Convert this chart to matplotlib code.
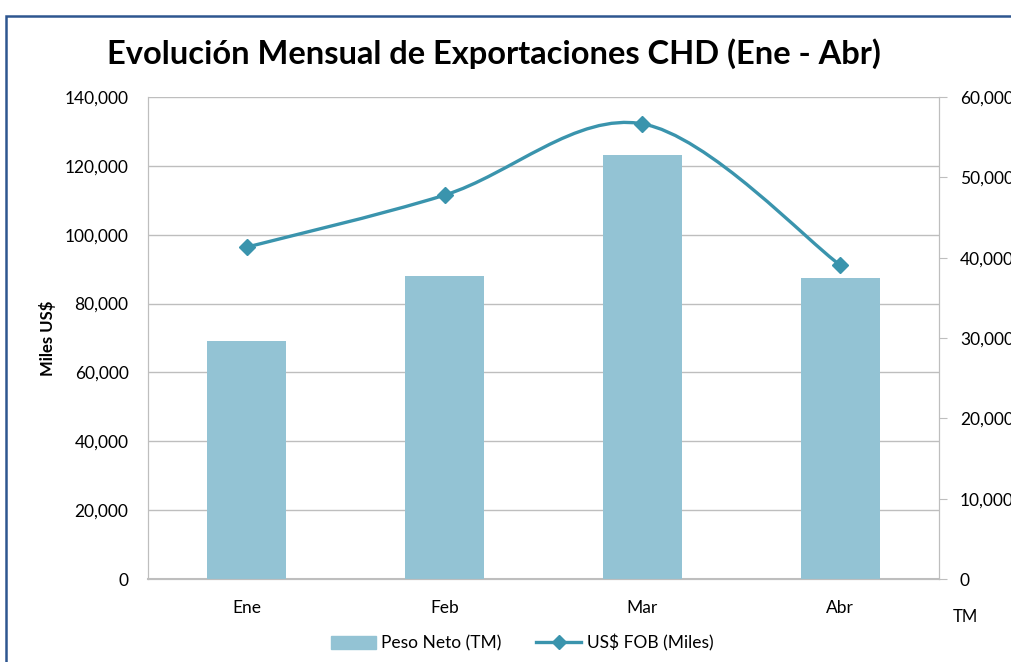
import numpy as np
import matplotlib.pyplot as plt
from matplotlib.path import Path
from matplotlib.patches import PathPatch, Rectangle
from matplotlib.lines import Line2D
from matplotlib.ticker import FuncFormatter

plt.rcParams['font.family'] = ['Lato', 'DejaVu Sans']

# Datos
meses = ['Ene', 'Feb', 'Mar', 'Abr']
peso_neto_tm = [29600, 37700, 52800, 37500]
fob_miles = [96400, 111500, 132200, 91200]

bar_color = '#93C3D4'
line_color = '#3A94AD'
grid_color = '#BEBEBE'

fig = plt.figure(figsize=(10.11, 6.62), dpi=100)
ax = fig.add_axes([148 / 1011, 1 - 579 / 662, (939 - 148) / 1011, (579 - 97) / 662])
ax2 = ax.twinx()

x = np.arange(len(meses))

# barras (eje derecho, TM)
ax2.bar(x, peso_neto_tm, width=0.4, color=bar_color, zorder=2)
ax2.set_ylim(0, 60000)
ax2.set_yticks(np.arange(0, 60001, 10000))

# linea suavizada (eje izquierdo, Miles US$)
pts = np.column_stack([x, fob_miles]).astype(float)
ext = np.vstack([pts[0], pts, pts[-1]])
verts = [tuple(pts[0])]
codes = [Path.MOVETO]
for i in range(len(pts) - 1):
    p0, p1, p2, p3 = ext[i], ext[i + 1], ext[i + 2], ext[i + 3]
    c1 = p1 + (p2 - p0) / 6
    c2 = p2 - (p3 - p1) / 6
    verts += [tuple(c1), tuple(c2), tuple(p2)]
    codes += [Path.CURVE4] * 3
ax.add_patch(PathPatch(Path(verts, codes), fill=False, edgecolor=line_color,
                       lw=2.4, zorder=3, capstyle='round'))
ax.plot(x, fob_miles, ls='none', marker='D', ms=8, color=line_color, zorder=4)

ax.set_xlim(-0.5, 3.5)
ax.set_ylim(0, 140000)
ax.set_yticks(np.arange(0, 140001, 20000))
ax.set_xticks(x)
ax.set_xticklabels(meses)
ax.yaxis.grid(True, color=grid_color, lw=1)
ax.set_axisbelow(True)

fmt = FuncFormatter(lambda v, p: f'{v:,.0f}')
ax.yaxis.set_major_formatter(fmt)
ax2.yaxis.set_major_formatter(fmt)

for a in (ax, ax2):
    for s in a.spines.values():
        s.set_color(grid_color)
    a.spines['top'].set_visible(False)
ax.spines['bottom'].set_linewidth(1.5)

ax.tick_params(axis='y', length=0, pad=14, labelsize=12.5, labelcolor='#000000')
ax.tick_params(axis='x', length=0, pad=15, labelsize=12.5)
ax2.tick_params(axis='y', length=6, color=grid_color, pad=9, labelsize=12.5)

ax.set_ylabel('Miles US$', fontsize=12, fontweight='bold', labelpad=6)
fig.text(965 / 1011, 1 - 617 / 662, 'TM', fontsize=12, ha='center', va='center')

fig.text(494 / 1011, 1 - 54 / 662, 'Evolución Mensual de Exportaciones CHD (Ene - Abr)',
         fontsize=23.5, fontweight='bold', ha='center', va='center')

handles = [Rectangle((0, 0), 1, 1, color=bar_color),
           Line2D([], [], color=line_color, lw=2.4, marker='D', ms=7)]
fig.legend(handles, ['Peso Neto (TM)', 'US$ FOB (Miles)'], loc='center',
           bbox_to_anchor=(522 / 1011, 1 - 643 / 662), ncol=2, frameon=False,
           fontsize=12.5, handlelength=2.6, columnspacing=2.0, handletextpad=0.3)

# borde del grafico
fig.patches.append(Rectangle((6 / 1011, -0.1), 1.2, 1 - 16 / 662 + 0.1,
                             transform=fig.transFigure, fill=False,
                             edgecolor='#2E5690', lw=1.8))

fig.savefig('out.png', dpi=100)
